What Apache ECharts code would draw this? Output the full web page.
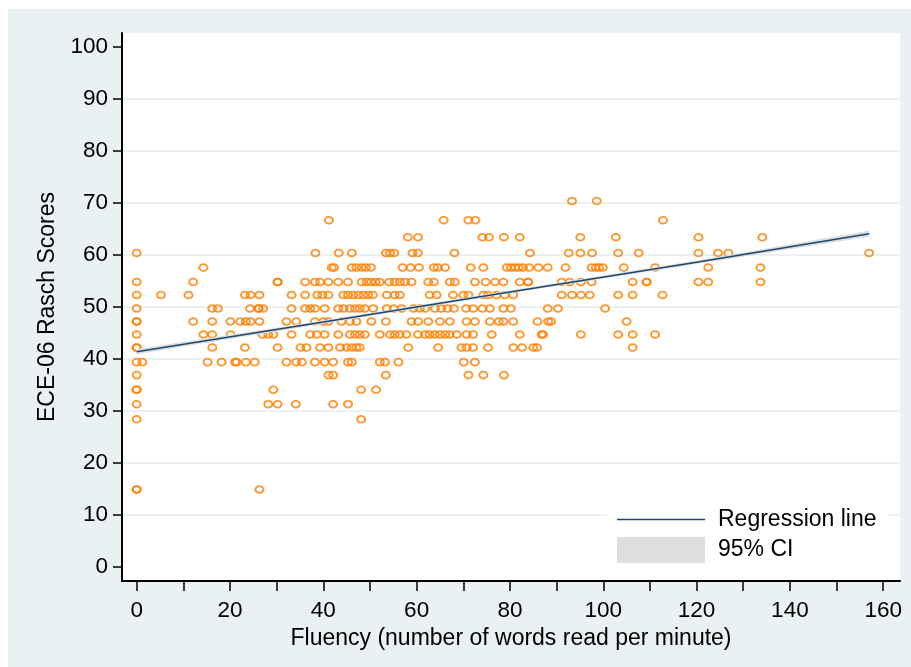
<!DOCTYPE html>
<html>
<head>
<meta charset="utf-8">
<script src="https://cdn.jsdelivr.net/npm/echarts@6/dist/echarts.min.js"></script>
<style>
html, body { margin: 0; padding: 0; background: #fff; }
#chart { position: absolute; left: 8px; top: 9px; width: 903px; height: 658px; }
</style>
</head>
<body>
<div id="chart"></div>
<script>
const scoreLevels = [70.4, 66.7, 63.4, 60.4, 57.6, 54.8, 52.3, 49.7, 47.2, 44.7, 42.2, 39.4, 36.9, 34.1, 31.3, 28.4, 14.9]
const fluency70 = [93.3, 98.6]
const fluency67 = [41.2, 65.8, 71.1, 72.6, 112.8]
const fluency63 = [58.1, 60.3, 74.1, 75.5, 78.7, 82.1, 95.1, 102.7, 120.4, 134.1]
const fluency60 = [0, 38.3, 43.3, 46.1, 53.4, 54.3, 55.2, 59.1, 60.3, 68.1, 84.3, 92.6, 95.1, 97.6, 103.2, 107.6, 120.4, 124.6, 126.8, 157]
const fluency58 = [14.3, 41.8, 42.3, 46.1, 47.1, 48.2, 49.1, 50.2, 57, 58.7, 60.5, 63.7, 64.5, 66.1, 71.6, 74.3, 79.3, 80.2, 81.1, 81.9, 82.8, 84.1, 86.1, 88.1, 91.9, 97.5, 98.4, 99.1, 99.9, 104.4, 111.1, 122.5, 133.7]
const fluency55 = [0, 12.1, 30.2, 30.2, 36.1, 38.2, 39.3, 41.1, 43.2, 45.3, 48.2, 49.3, 50.2, 51.2, 52.1, 54.1, 55.3, 56.4, 57.5, 58.9, 62.5, 63.7, 67.1, 68.2, 72.5, 74.8, 76.8, 78.6, 82.1, 83.9, 83.9, 91.1, 92.8, 95.2, 97.5, 106.3, 109.3, 109.3, 120.4, 122.5, 133.7]
const fluency52 = [0, 5.2, 11.1, 23.2, 24.4, 26.3, 33.2, 36.1, 38.7, 39.8, 41.1, 44.3, 45.3, 46.4, 47.5, 48.6, 49.6, 50.6, 53.6, 55.3, 56.4, 62.8, 64.3, 67.8, 70, 71.1, 74.3, 75.3, 77.1, 78.9, 80.7, 91.1, 93.3, 95.2, 97.1, 103.2, 106.3, 112.7]
const fluency50 = [0, 16.2, 17.4, 24.3, 26.1, 26.1, 27.1, 33.2, 36.1, 37.2, 38.2, 40.3, 43.2, 44.3, 45.7, 46.8, 47.8, 48.9, 50.7, 53.6, 55.1, 56.8, 59.3, 60.7, 61.8, 63.9, 65.3, 66.6, 68, 70.6, 72.1, 74.1, 75.7, 78.6, 80.2, 88.1, 90.3, 100.4]
const fluency47 = [0, 0, 12.1, 16.2, 20.1, 22.2, 23.4, 24.4, 26.3, 32.1, 34.2, 38.2, 40, 41.1, 43.9, 45.7, 47.1, 50.3, 53.4, 58.9, 60.3, 62.5, 65, 67.1, 70.7, 72.5, 75.7, 77.6, 78.6, 80.7, 85.9, 88.2, 88.8, 105]
const fluency45 = [0, 14.3, 16.2, 20.1, 27.0, 28.2, 29.3, 33.2, 37.2, 38.6, 40.3, 43.2, 45.7, 46.8, 47.8, 48.9, 52.1, 54.3, 55.3, 56.4, 57.8, 60.3, 61.8, 62.8, 63.9, 65, 66.1, 67.1, 68.6, 70.7, 72.1, 76.1, 82.1, 86.8, 87.1, 95.2, 103.2, 106.3, 111.1]
const fluency42 = [0, 0, 16.2, 23.2, 30.2, 35.1, 36.4, 39.3, 41.1, 43.6, 45, 46.1, 47.1, 47.8, 58.2, 64.6, 69.6, 70.7, 72.1, 75.3, 80.7, 82.6, 85, 85.8, 106.3]
const fluency39 = [0, 1.2, 15.2, 18.2, 21.1, 21.4, 23.4, 25.3, 32.1, 34.2, 35.4, 38.2, 40.3, 42.1, 45.3, 46.1, 52.1, 53.2, 56.1, 70.1, 72.5]
const fluency37 = [0, 41.1, 42.1, 53.4, 71.1, 74.3, 78.7]
const fluency34 = [0, 0, 29.3, 48.1, 51.3]
const fluency31 = [0, 28.2, 30.2, 34.1, 42.1, 45.3]
const fluency28 = [0, 48.1]
const fluency15 = [0, 0, 26.3]

// regression line and its 95% CI, read at a few x positions
const fitX = [0, 40, 80, 120, 157]
const fitY = [41.4, 47.1, 52.9, 58.6, 64.1]
const ciLow = [40.9, 46.8, 52.65, 58.25, 63.5]
const ciHigh = [41.9, 47.4, 53.15, 58.95, 64.7]

// axis ticks
const xTicks = [0, 10, 20, 30, 40, 50, 60, 70, 80, 90, 100, 110, 120, 130, 140, 150, 160]
const xLabels = [0, 20, 40, 60, 80, 100, 120, 140, 160]
const yTicks = [0, 10, 20, 30, 40, 50, 60, 70, 80, 90, 100]
const yGrid = [10, 20, 30, 40, 50, 60, 70, 80, 90]

const FONT = "'Liberation Sans', Arial, sans-serif"

var rows = [fluency70, fluency67, fluency63, fluency60, fluency58, fluency55, fluency52, fluency50,
    fluency47, fluency45, fluency42, fluency39, fluency37, fluency34, fluency31, fluency28, fluency15]
var points = []
rows.forEach((xs, i) => {
    xs.forEach(x => points.push([x, scoreLevels[i]]))
})
var fitLine = fitX.map((x, i) => [x, fitY[i]])

var chart = echarts.init(document.getElementById('chart'))
chart.setOption({
    animation: false,
    backgroundColor: '#eaf1f3',
    grid: { left: 114, top: 24, right: 11, bottom: 86, show: true, backgroundColor: '#fff', borderWidth: 0 },
    legend: {
        orient: 'vertical', left: 599, top: 496,
        backgroundColor: '#fff', padding: [3, 12, 6, 10],
        itemWidth: 88, itemHeight: 26, itemGap: 6,
        symbolKeepAspect: true,
        textStyle: { fontFamily: FONT, fontSize: 23, color: '#000', padding: [0, 0, 0, 8] },
        data: [
            // thin bar so the legend shows a plain line, no marker
            { name: 'Regression line', icon: 'path://M0,0H88V1.6H0Z' },
            { name: '95% CI', icon: 'rect' }
        ]
    },
    xAxis: {
        type: 'value', min: -3.15, max: 163.6,
        name: 'Fluency (number of words read per minute)',
        nameLocation: 'middle', nameGap: 35,
        nameTextStyle: { fontFamily: FONT, fontSize: 23, color: '#000' },
        axisLine: { show: true, onZero: false, lineStyle: { color: '#000', width: 2 } },
        axisTick: { show: true, length: 10, customValues: xTicks, lineStyle: { color: '#000', width: 1.5 } },
        axisLabel: { customValues: xLabels, margin: 18, fontFamily: FONT, fontSize: 22.5, color: '#000' },
        splitLine: { show: false }
    },
    yAxis: [{
        type: 'value', min: -2.7, max: 102.7,
        name: 'ECE-06 Rasch Scores',
        nameLocation: 'middle', nameGap: 60,
        nameTextStyle: { fontFamily: FONT, fontSize: 23, color: '#000' },
        axisLine: { show: true, onZero: false, lineStyle: { color: '#000', width: 2 } },
        axisTick: { show: true, length: 9, customValues: yTicks, lineStyle: { color: '#000', width: 1.5 } },
        axisLabel: { customValues: yTicks, margin: 14, fontFamily: FONT, fontSize: 22.5, color: '#000' },
        splitLine: { show: false }
    }, {
        type: 'value', min: -2.7, max: 102.7, position: 'left',
        axisLine: { show: false }, axisLabel: { show: false },
        axisTick: { show: false, customValues: yGrid },
        splitLine: { show: true, lineStyle: { color: '#e4eef1', width: 1.5 } }
    }],
    series: [
        {
            type: 'scatter', data: points, z: 2,
            symbol: 'circle', symbolSize: [8, 6.8],
            itemStyle: { color: 'rgba(0,0,0,0)', borderColor: '#ff7f00', borderWidth: 1.9 }
        },
        {
            name: '95% CI', type: 'custom', z: 3,
            data: [[fitX[0], fitY[0]]],
            itemStyle: { color: '#dedede' },
            renderItem: function (params, api) {
                var pts = []
                fitX.forEach((x, i) => pts.push(api.coord([x, ciHigh[i]])))
                for (var i = fitX.length - 1; i >= 0; i--) pts.push(api.coord([fitX[i], ciLow[i]]))
                return { type: 'polygon', shape: { points: pts }, style: { fill: '#dedede' } }
            }
        },
        {
            name: 'Regression line', type: 'line', data: fitLine, z: 4,
            symbol: 'none', lineStyle: { color: '#1a476f', width: 1.5 },
            itemStyle: { color: '#1a476f' }
        }
    ]
})
</script>
</body>
</html>
